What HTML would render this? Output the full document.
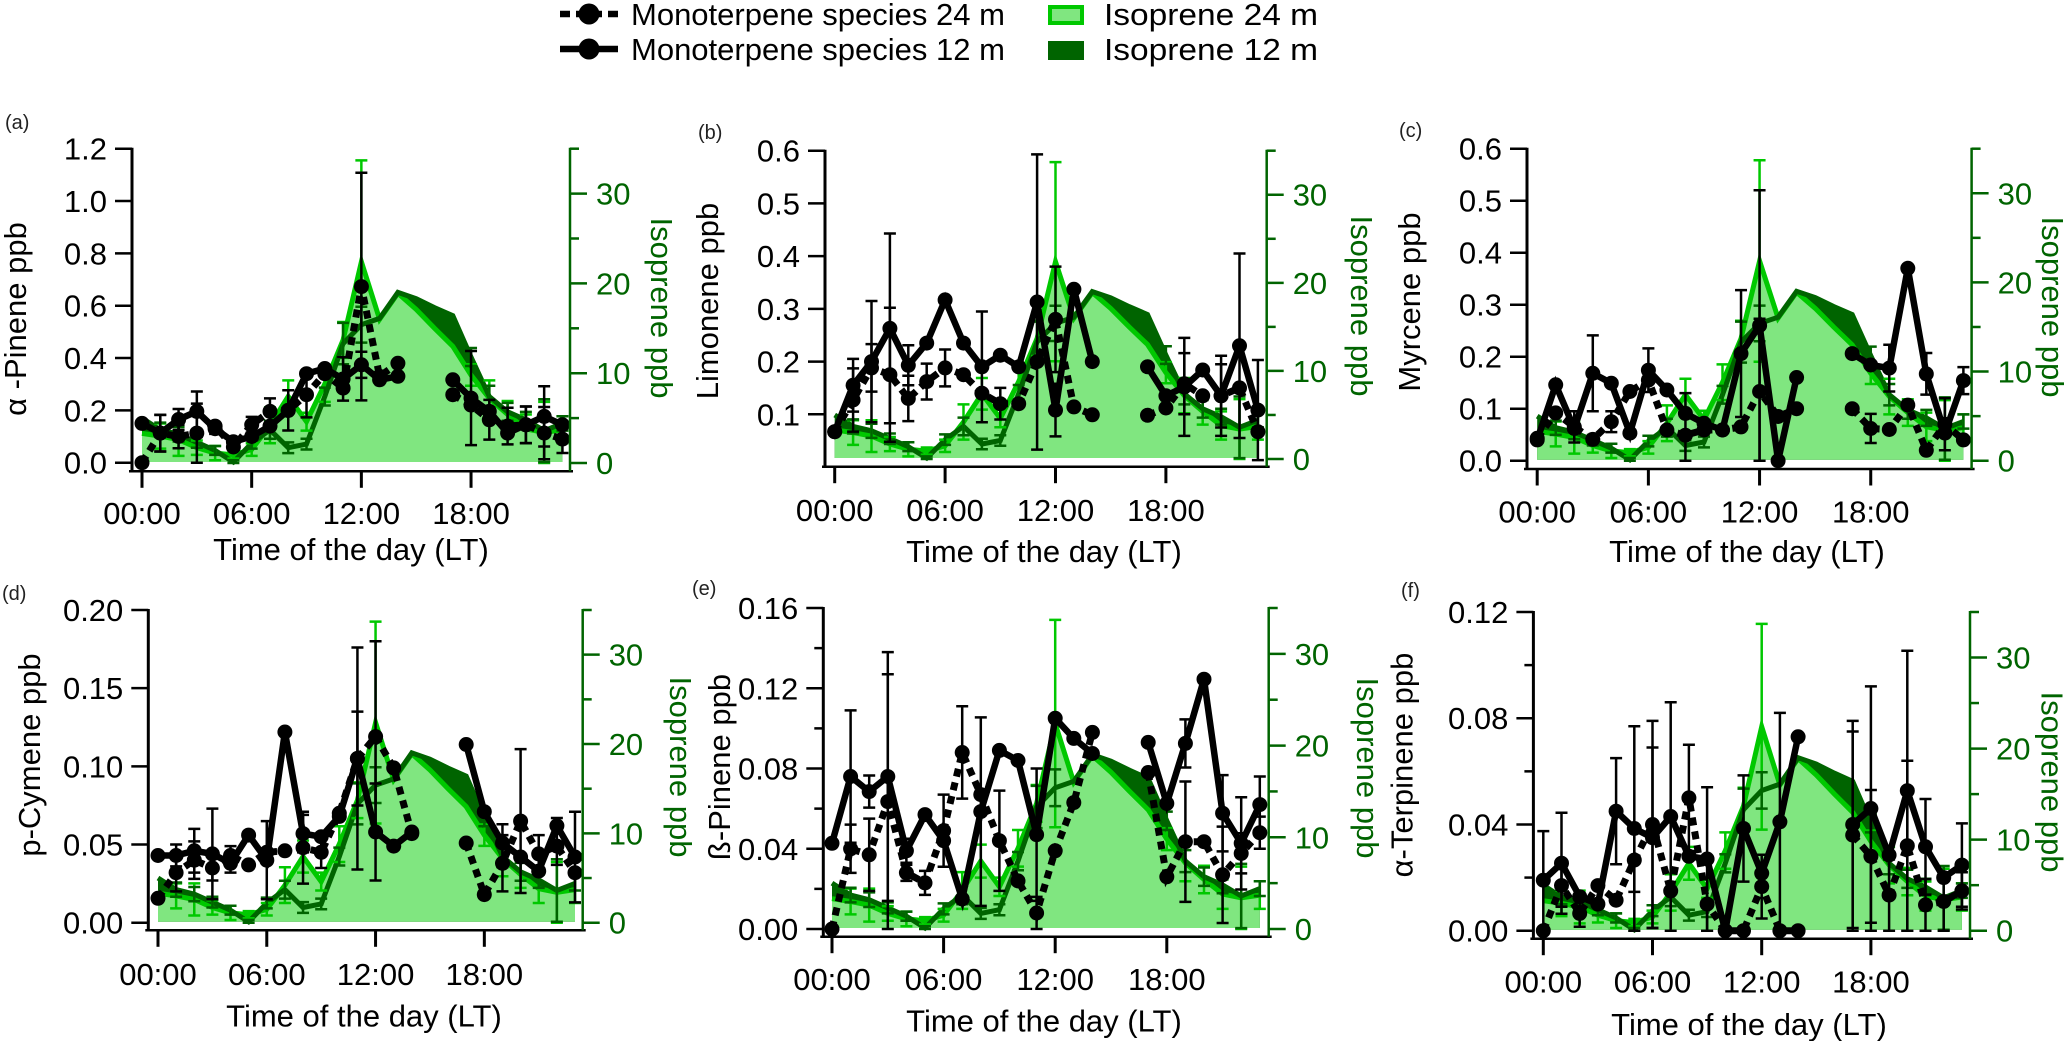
<!DOCTYPE html>
<html lang="en">
<head>
<meta charset="utf-8">
<title>Monoterpene species and isoprene diel profiles</title>
<style>
html,body{margin:0;padding:0;background:#fff;}
svg{display:block;font-family:"Liberation Sans",sans-serif;}
</style>
</head>
<body>
<svg id="chart" width="2067" height="1041" viewBox="0 0 2067 1041" xmlns="http://www.w3.org/2000/svg">
  <g>
    <g>
      <line x1="560" y1="14" x2="618" y2="14" stroke="#000" stroke-width="6.5" stroke-dasharray="10 6 26 6 10"/>
      <circle cx="589" cy="14" r="10.5"/>
      <text x="631" y="25" font-size="31">Monoterpene species 24 m</text>
    </g>
    <g>
      <line x1="560" y1="49" x2="618" y2="49" stroke="#000" stroke-width="6.5"/>
      <circle cx="589" cy="49" r="10.5"/>
      <text x="631" y="60" font-size="31">Monoterpene species 12 m</text>
    </g>
    <g>
      <rect x="1050" y="7" width="32" height="16" fill="#80e680" stroke="#00c800" stroke-width="4"/>
      <text x="1104" y="25" font-size="31" textLength="214" lengthAdjust="spacingAndGlyphs">Isoprene 24 m</text>
    </g>
    <g>
      <rect x="1048" y="41" width="36" height="19" fill="#006400"/>
      <text x="1104" y="60" font-size="31" textLength="214" lengthAdjust="spacingAndGlyphs">Isoprene 12 m</text>
    </g>
  </g>
</svg>
<script>
const hours = [0,1,2,3,4,5,6,7,8,9,10,11,12,13,14,15,16,17,18,19,20,21,22,23];
const xTickHours = [0,6,12,18];
const xTickLabels = ['00:00','06:00','12:00','18:00'];
const rightMajorTicks = [0,10,20,30];
const rightMinorTicks = [5,15,25,35];

const iso12 = [5.0,3.7,3.2,2.3,1.4,0.1,2.2,3.7,1.7,2.1,7.4,13.3,15.4,16.1,19.0,18.3,17.3,16.4,11.8,7.4,5.7,4.8,3.6,4.4];
const iso24 = [3.3,3.0,2.6,1.7,1.1,0.9,1.5,4.2,7.4,4.6,8.8,13.7,22.4,16.0,18.9,17.1,15.0,13.0,9.8,7.2,5.4,3.8,3.4,3.7];
const iso12Err = [0,0.8,0.8,0.6,0.5,0.2,0.6,1.0,0.6,0.6,1.0,2.3,2.0,0,0,0,0,0,1.0,1.2,1.0,0.9,3.5,0.8];
const iso24Err = [0,1.4,1.8,0.8,0.8,0.4,0.7,2.0,1.8,1.0,2.0,2.0,11.3,0,0,0,0,0,1.2,2.0,1.5,1.6,3.4,1.5];

const aTicks = [0,0.2,0.4,0.6,0.8,1.0,1.2];
const aMinor = [];
const aM24 = [0,.113,.10,.113,.14,.06,.145,.196,.2,.26,.34,.285,.673,.33,.38,null,null,.26,.22,.164,.14,.145,.113,.09];
const aM12 = [.15,.113,.165,.196,.13,.08,.1,.14,.2,.34,.36,.32,.374,.317,.33,null,null,.317,.247,.196,.113,.145,.177,.145];
const aE24 = [0,.07,.045,.113,0,0,.03,.05,.077,.087,0,0,.435,0,0,null,null,0,0,.076,.07,.07,.1,.053];
const aE12 = [0,.07,.04,.076,.02,0,0,0,0,0,0,.083,.05,0,0,null,null,0,.18,0,0,.07,.115,0];

const bTicks = [0.1,0.2,0.3,0.4,0.5,0.6];
const bMinor = [];
const bM24 = [.067,.127,.188,.175,.13,.162,.188,.175,.14,.12,.12,.2,.28,.114,.099,null,null,.098,.112,.158,.135,.135,.15,.067];
const bM12 = [.067,.155,.2,.263,.193,.235,.317,.235,.19,.212,.19,.313,.108,.337,.2,null,null,.19,.135,.152,.184,.135,.23,.108];
const bE24 = [0,.06,.045,.127,.043,.034,.035,0,0,.03,0,0,.1,0,0,null,null,0,0,.058,0,.06,0,0];
const bE12 = [0,.05,.115,.18,.038,0,0,0,.105,0,0,.28,.05,0,0,null,null,0,0,.093,0,.076,.175,.095];

const cTicks = [0,0.1,0.2,0.3,0.4,0.5,0.6];
const cMinor = [];
const cM24 = [.043,.092,.065,.041,.075,.133,.155,.059,.049,.059,.059,.065,.133,.085,.10,null,null,.10,.062,.06,.107,.02,.07,.04];
const cM12 = [.04,.146,.062,.168,.149,.053,.174,.136,.091,.072,.059,.206,.26,0,.16,null,null,.206,.184,.178,.37,.167,.053,.154];
const cE24 = [0,0,.03,0,.02,0,0,0,.081,0,0,0,.14,0,0,null,null,0,.028,0,0,0,.05,0];
const cE12 = [0,0,0,.073,0,0,.042,0,0,0,0,.122,.26,0,0,null,null,0,0,.045,0,.04,0,.026];

const dTicks = [0,0.05,0.10,0.15,0.20];
const dMinor = [];
const dM24 = [.0156,.032,.04,.035,.043,.037,.045,.046,.048,.045,.07,.105,.119,.099,.057,null,null,.051,.018,.038,.065,.044,.049,.032];
const dM12 = [.043,.043,.046,.044,.038,.056,.04,.122,.057,.055,.068,.105,.058,.049,.058,null,null,.114,.071,.051,.042,.033,.062,.042];
const dE24 = [0,.012,.012,.008,.006,0,0,0,.023,.01,0,.03,.061,0,0,null,null,0,0,.018,.046,.012,.012,0];
const dE12 = [0,.007,.014,.029,.006,0,.025,0,.012,0,0,.071,.031,0,0,null,null,0,0,.012,0,0,.005,.029];

const eTicks = [0,0.04,0.08,0.12,0.16];
const eMinor = [0.02,0.06,0.10,0.14];
const eM24 = [0,.04,.037,.0635,.028,.023,.049,.088,.067,.044,.024,.008,.039,.063,.098,null,null,.078,.026,.0435,.0435,.027,.0377,.048];
const eM12 = [.0427,.076,.0685,.076,.039,.057,.044,.015,.0585,.089,.084,.047,.105,.095,.0875,null,null,.093,.0626,.0925,.1245,.0577,.0427,.062];
const eE24 = [0,.012,.018,.0635,.004,.006,.018,.023,0,.025,0,.008,0,0,0,null,null,0,0,.03,0,.024,.01,.008];
const eE12 = [0,.033,.008,.062,.006,0,0,0,.047,0,0,.033,0,0,0,null,null,0,0,.012,0,.019,.023,.014];

const fTicks = [0,0.04,0.08,0.12];
const fMinor = [0.02,0.06,0.10];
const fM24 = [0,.017,.0065,.017,.0115,.0266,.04,.015,.05,.01,0,0,.0166,0,0,null,null,.036,.028,.0134,.032,.0097,.011,.015];
const fM12 = [.019,.0254,.0128,.01,.045,.0385,.035,.043,.028,.027,0,.0385,.0216,.041,.073,null,null,.04,.046,.0285,.0527,.0316,.02,.0247];
const fE24 = [0,.008,.005,0,0,.012,.039,0,.02,.01,0,0,.012,0,0,null,null,.039,.025,.0134,.032,.0097,.011,.007];
const fE12 = [.0185,.019,0,0,.02,.0385,.034,.043,0,.027,0,.02,0,.041,0,null,null,.039,.046,0,.0527,.018,0,.0157];

const svgNS = 'http://www.w3.org/2000/svg';
const root = document.getElementById('chart');
const GREEN_DARK = '#006400';
const GREEN_BRIGHT = '#00c800';
const GREEN_LIGHT = '#80e680';

function add(parent, tag, name, props, text) {
  const el = document.createElementNS(svgNS, tag);
  
  
  for (const k in props) el.setAttribute(k, props[k]);
  if (text !== undefined) el.textContent = text;
  parent.appendChild(el);
  return el;
}

function drawPanel(p) {
  const g = add(root, 'g', 'panel-' + p.id, {});
  const xs = h => p.x0 + h * p.xStep;
  const ys = v => p.yZero - (v / p.yTopValue) * (p.yZero - p.yTopPx);
  const rs = v => p.rZero - (v / 35) * (p.rZero - p.rTop);

  // Isoprene areas
  const base = p.rZero - 1;
  const pts12 = iso12.map((v, i) => xs(hours[i]).toFixed(1) + ',' + rs(v).toFixed(1)).join(' ');
  const pts24 = iso24.map((v, i) => xs(hours[i]).toFixed(1) + ',' + rs(v).toFixed(1)).join(' ');
  const close = ' ' + xs(23).toFixed(1) + ',' + base + ' ' + xs(0).toFixed(1) + ',' + base;
  add(g, 'polygon', 'isoprene-12m-area', {points: pts12 + close, fill: GREEN_DARK});
  add(g, 'polygon', 'isoprene-24m-area', {points: pts24 + close, fill: GREEN_LIGHT});
  add(g, 'polyline', 'isoprene-24m-outline', {points: pts24, fill: 'none', stroke: GREEN_BRIGHT, 'stroke-width': 5});
  add(g, 'polyline', 'isoprene-12m-outline', {points: pts12, fill: 'none', stroke: GREEN_DARK, 'stroke-width': 5});

  // Error bars
  function errBars(vals, errs, scale, color, name, width) {
    vals.forEach((v, i) => {
      if (v === null || !errs[i]) return;
      const x = xs(hours[i]);
      const hi = scale(v + errs[i]);
      const lo = scale(Math.max(v - errs[i], 0));
      add(g, 'path', name, {d: 'M' + x + ' ' + hi + 'V' + lo + 'M' + (x - 6) + ' ' + hi + 'H' + (x + 6) + 'M' + (x - 6) + ' ' + lo + 'H' + (x + 6), fill: 'none', stroke: color, 'stroke-width': width});
    });
  }
  errBars(iso24, iso24Err, rs, GREEN_BRIGHT, 'isoprene-24m-error-bar', 2.5);
  errBars(iso12, iso12Err, rs, GREEN_DARK, 'isoprene-12m-error-bar', 2.5);
  errBars(p.m24, p.e24, ys, '#000', 'monoterpene-24m-error-bar', 2.5);
  errBars(p.m12, p.e12, ys, '#000', 'monoterpene-12m-error-bar', 2.5);

  // Monoterpene lines & markers
  function series(vals, name, dash, width) {
    let d = '';
    let pen = false;
    vals.forEach((v, i) => {
      if (v === null) { pen = false; return; }
      d += (pen ? 'L' : 'M') + xs(hours[i]).toFixed(1) + ' ' + ys(v).toFixed(1);
      pen = true;
    });
    const props = {d: d, fill: 'none', stroke: '#000', 'stroke-width': width};
    if (dash) props['stroke-dasharray'] = dash;
    add(g, 'path', name + '-line', props);
    vals.forEach((v, i) => {
      if (v === null) return;
      add(g, 'circle', name + '-point', {cx: xs(hours[i]).toFixed(1), cy: ys(v).toFixed(1), r: 7.5});
    });
  }
  series(p.m24, 'monoterpene-24m', '8 6', 7);
  series(p.m12, 'monoterpene-12m', null, 6.5);

  // Left axis
  add(g, 'line', 'left-y-axis', {x1: p.axisX, y1: p.yTopPx - 1, x2: p.axisX, y2: p.xAxisY, stroke: '#000', 'stroke-width': 3});
  p.ticks.forEach(v => {
    add(g, 'line', 'left-y-tick', {x1: p.axisX - 17, y1: ys(v), x2: p.axisX, y2: ys(v), stroke: '#000', 'stroke-width': 2.5});
    add(g, 'text', 'left-y-tick-label', {x: p.axisX - 25, y: ys(v) + 11, 'text-anchor': 'end', 'font-size': 31}, v.toFixed(p.decimals));
  });
  p.minor.forEach(v => {
    add(g, 'line', 'left-y-minor-tick', {x1: p.axisX - 9, y1: ys(v), x2: p.axisX, y2: ys(v), stroke: '#000', 'stroke-width': 2.5});
  });
  add(g, 'text', 'left-y-axis-title', {transform: 'translate(' + p.leftTitleX + ' ' + p.leftTitleY + ') rotate(-90)', 'text-anchor': 'middle', 'font-size': 31}, p.title);

  // X axis
  add(g, 'line', 'x-axis', {x1: p.axisX - 3, y1: p.xAxisY, x2: p.rightX + 3, y2: p.xAxisY, stroke: '#000', 'stroke-width': 2.5});
  xTickHours.forEach((h, i) => {
    add(g, 'line', 'x-tick', {x1: xs(h), y1: p.xAxisY, x2: xs(h), y2: p.xAxisY + 16.5, stroke: '#000', 'stroke-width': 3});
    add(g, 'text', 'x-tick-label', {x: xs(h), y: p.xLabelY + 11, 'text-anchor': 'middle', 'font-size': 31}, xTickLabels[i]);
  });
  add(g, 'text', 'x-axis-title', {x: p.xTitleX, y: p.xTitleY + 10, 'text-anchor': 'middle', 'font-size': 31}, 'Time of the day (LT)');

  // Right axis
  add(g, 'line', 'right-y-axis', {x1: p.rightX, y1: p.rTop - 1, x2: p.rightX, y2: p.xAxisY, stroke: GREEN_DARK, 'stroke-width': 2.5});
  rightMajorTicks.forEach(v => {
    add(g, 'line', 'right-y-tick', {x1: p.rightX, y1: rs(v), x2: p.rightX + 17, y2: rs(v), stroke: GREEN_DARK, 'stroke-width': 2.5});
    add(g, 'text', 'right-y-tick-label', {x: p.rightX + 26, y: rs(v) + 11, 'font-size': 31, fill: GREEN_DARK}, String(v));
  });
  rightMinorTicks.forEach(v => {
    add(g, 'line', 'right-y-minor-tick', {x1: p.rightX, y1: rs(v), x2: p.rightX + 9, y2: rs(v), stroke: GREEN_DARK, 'stroke-width': 2.5});
  });
  add(g, 'text', 'right-y-axis-title', {transform: 'translate(' + p.rightTitleX + ' ' + p.rightTitleY + ') rotate(90)', 'text-anchor': 'middle', 'font-size': 31, fill: GREEN_DARK}, 'Isoprene ppb');

  add(g, 'text', 'panel-label', {x: p.labelX, y: p.labelY + 7, 'font-size': 20, fill: '#222'}, '(' + p.id + ')');
}

drawPanel({id:'a', title:'\u03B1 -Pinene ppb', ticks:aTicks, minor:aMinor, decimals:1, yTopValue:1.2, m24:aM24, m12:aM12, e24:aE24, e12:aE12,
  axisX:132, xAxisY:471.3, x0:142, xStep:18.28, yZero:462.7, yTopPx:148.7, rightX:570, rZero:463, rTop:148.7,
  xLabelY:513, xTitleX:351, xTitleY:550, leftTitleX:26, leftTitleY:319, rightTitleX:651, rightTitleY:308, labelX:5, labelY:122});
drawPanel({id:'b', title:'Limonene ppb', ticks:bTicks, minor:bMinor, decimals:1, yTopValue:0.6, m24:bM24, m12:bM12, e24:bE24, e12:bE12,
  axisX:825, xAxisY:466.7, x0:834.7, xStep:18.4, yZero:467, yTopPx:150.7, rightX:1266.7, rZero:459, rTop:150.7,
  xLabelY:510, xTitleX:1044, xTitleY:552, leftTitleX:718, leftTitleY:301, rightTitleX:1351, rightTitleY:306, labelX:698, labelY:132});
drawPanel({id:'c', title:'Myrcene ppb', ticks:cTicks, minor:cMinor, decimals:1, yTopValue:0.6, m24:cM24, m12:cM12, e24:cE24, e12:cE12,
  axisX:1527, xAxisY:469, x0:1537.2, xStep:18.53, yZero:460.7, yTopPx:148.7, rightX:1971.6, rZero:460.7, rTop:148.7,
  xLabelY:511.7, xTitleX:1747, xTitleY:552, leftTitleX:1420, leftTitleY:302, rightTitleX:2042, rightTitleY:307, labelX:1399, labelY:130});
drawPanel({id:'d', title:'p-Cymene ppb', ticks:dTicks, minor:dMinor, decimals:2, yTopValue:0.2, m24:dM24, m12:dM12, e24:dE24, e12:dE12,
  axisX:148.3, xAxisY:930.3, x0:158, xStep:18.13, yZero:922.7, yTopPx:610, rightX:582.7, rZero:922.7, rTop:610,
  xLabelY:974, xTitleX:364, xTitleY:1016.7, leftTitleX:40, leftTitleY:755, rightTitleX:670, rightTitleY:767, labelX:2, labelY:593});
drawPanel({id:'e', title:'\u00DF-Pinene ppb', ticks:eTicks, minor:eMinor, decimals:2, yTopValue:0.16, m24:eM24, m12:eM12, e24:eE24, e12:eE12,
  axisX:823.3, xAxisY:936.7, x0:832, xStep:18.6, yZero:929, yTopPx:608, rightX:1268.7, rZero:929, rTop:608,
  xLabelY:979, xTitleX:1044, xTitleY:1021.7, leftTitleX:730, leftTitleY:767, rightTitleX:1357, rightTitleY:768, labelX:692, labelY:588});
drawPanel({id:'f', title:'\u03B1-Terpinene ppb', ticks:fTicks, minor:fMinor, decimals:2, yTopValue:0.12, m24:fM24, m12:fM12, e24:fE24, e12:fE12,
  axisX:1533.4, xAxisY:938.7, x0:1543.3, xStep:18.2, yZero:930.7, yTopPx:612, rightX:1970, rZero:930.7, rTop:612,
  xLabelY:981.7, xTitleX:1749, xTitleY:1025, leftTitleX:1412.7, leftTitleY:765, rightTitleX:2041.6, rightTitleY:782, labelX:1401, labelY:590});
</script>
</body>
</html>
